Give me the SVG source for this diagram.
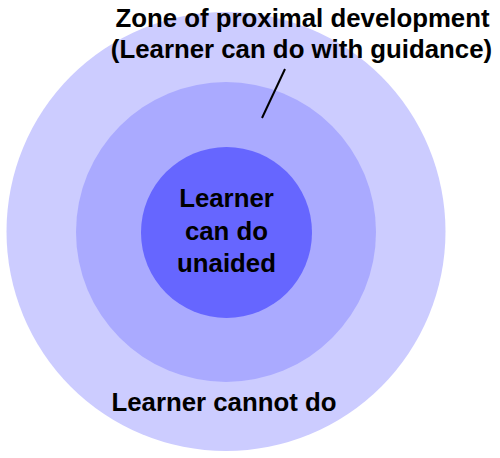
<svg xmlns="http://www.w3.org/2000/svg" width="500" height="458" viewBox="0 0 500 458">
<style>
text{font-family:"Liberation Sans",Arial,sans-serif;font-weight:bold;font-size:25.8px;fill:#000;text-anchor:middle}
</style>
<rect width="500" height="458" fill="#fff"/>
<g id="outer"><circle cx="226" cy="231.5" r="219.5" fill="#ccccff"/></g>
<g id="middle"><circle cx="226" cy="232" r="150" fill="#aaaaff"/></g>
<g id="inner"><circle cx="226.5" cy="232.5" r="85.5" fill="#6666ff"/>
<text x="226.5" y="207">Learner</text>
<text x="226.5" y="239.5">can do</text>
<text x="226.5" y="272">unaided</text>
</g>
<g id="connectors"><line x1="285" y1="69" x2="262" y2="118" stroke="#000" stroke-width="2"/></g>
<g id="labels">
<text x="302.5" y="26.5">Zone of proximal development</text>
<text x="301.5" y="57.5">(Learner can do with guidance)</text>
<text x="224" y="411">Learner cannot do</text>
</g>
</svg>
